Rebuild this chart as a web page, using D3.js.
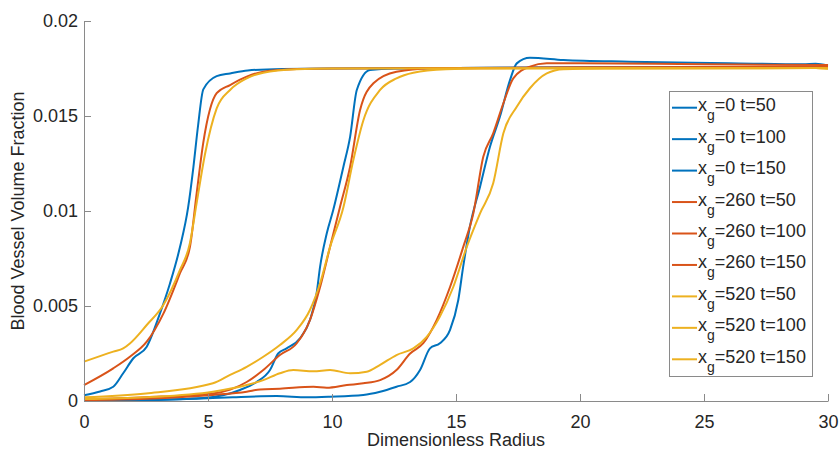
<!DOCTYPE html>
<html>
<head>
<meta charset="utf-8">
<script src="https://cdn.jsdelivr.net/npm/d3@7"></script>
<style>
  body { margin: 0; background: #fff; }
  text { font-family: Arial, "Liberation Sans", sans-serif; fill: #262626; }
</style>
</head>
<body>
<div id="chart"></div>
<script>
// Blood vessel volume fraction vs dimensionless radius
const xTicks = [0, 5, 10, 15, 20, 25, 30];
const yTicks = [0, 0.005, 0.01, 0.015, 0.02];

const xg0_t50 = [[0,0.0003],[0.65,0.0005],[1.18,0.00075],[1.58,0.00146],[1.99,0.00225],[2.53,0.00286],[3.06,0.0046],[3.47,0.0062],[3.87,0.0081],[4.2,0.0102],[4.41,0.0123],[4.6,0.0145],[4.81,0.0164],[5.35,0.0171],[5.89,0.01724],[6.6,0.0174],[8,0.01748],[10,0.0175],[15,0.01752],[20,0.01755],[25,0.01756],[30,0.01756]];
const xg0_t100 = [[0,0.00003],[2,0.00005],[4,0.0001],[5,0.00018],[5.6,0.0003],[6.29,0.00058],[6.96,0.001],[7.5,0.00163],[7.83,0.0025],[8.17,0.00277],[8.71,0.0033],[9.11,0.00426],[9.38,0.00567],[9.52,0.00707],[9.79,0.00883],[10.05,0.01005],[10.46,0.01233],[10.73,0.0139],[11.0,0.01637],[11.53,0.01742],[12.5,0.0175],[15,0.01752],[20,0.01755],[30,0.01756]];
const xg0_t150 = [[0,0.00002],[3,0.00005],[5,0.00015],[6,0.0002],[7.77,0.00026],[9,0.0002],[9.92,0.00023],[11.26,0.00032],[11.94,0.00049],[12.6,0.00075],[13.15,0.001],[13.55,0.00163],[13.95,0.00277],[14.35,0.00304],[14.76,0.00374],[15.09,0.0053],[15.29,0.00707],[15.56,0.00917],[15.97,0.01128],[16.37,0.01338],[16.77,0.01496],[17.18,0.0169],[17.45,0.01777],[17.98,0.01807],[19.33,0.01795],[22,0.01786],[26,0.01778],[29,0.01772],[29.5,0.01775],[30,0.01765]];
const xg260_t50 = [[0,0.00084],[1.18,0.00172],[1.85,0.00233],[2.53,0.00312],[3.2,0.0046],[3.87,0.00673],[4.27,0.0081],[4.54,0.0109],[4.81,0.0136],[5.35,0.0162],[5.89,0.01663],[6.56,0.01707],[7.23,0.01733],[8.58,0.01747],[10,0.0175],[15,0.01752],[20,0.01755],[30,0.01756]];
const xg260_t100 = [[0,0.0001],[2.5,0.0002],[5.2,0.0004],[5.9,0.0006],[6.56,0.001],[7.23,0.00163],[7.9,0.00242],[8.58,0.00304],[9.11,0.00426],[9.52,0.006],[9.92,0.0081],[10.32,0.0102],[10.73,0.01233],[11.13,0.0153],[11.67,0.01672],[12.6,0.01733],[13.95,0.0175],[20,0.01755],[30,0.01758]];
const xg260_t150 = [[0,0.00005],[2.5,0.00012],[5.2,0.00032],[6.56,0.00049],[7.1,0.00061],[7.9,0.00065],[9.25,0.00075],[9.79,0.0007],[10.6,0.00084],[11.26,0.00093],[11.94,0.0011],[12.6,0.00163],[13.15,0.0025],[13.68,0.00304],[14.22,0.00426],[14.76,0.006],[15.29,0.0081],[15.7,0.00988],[16.1,0.01286],[16.5,0.01409],[16.91,0.01567],[17.31,0.01698],[17.98,0.0176],[18.66,0.01777],[20,0.01778],[25,0.01772],[30,0.01768]];
const xg520_t50 = [[0,0.00207],[1.18,0.0026],[1.58,0.00277],[1.85,0.00303],[2.53,0.004],[3.2,0.00505],[3.87,0.0069],[4.27,0.0083],[4.54,0.0104],[4.88,0.013],[5.35,0.0154],[5.89,0.01637],[6.56,0.01698],[7.23,0.01728],[8.58,0.01746],[10,0.0175],[20,0.01752],[29.5,0.01753],[30,0.0175]];
const xg520_t100 = [[0,0.0002],[2.5,0.0004],[5.2,0.00093],[5.89,0.00137],[6.56,0.0018],[7.23,0.00233],[7.9,0.00295],[8.58,0.00374],[9.11,0.00479],[9.52,0.0062],[9.92,0.0081],[10.46,0.0102],[10.86,0.01268],[11.26,0.01475],[11.94,0.01637],[12.6,0.01698],[13.28,0.01728],[14.6,0.01746],[16,0.0175],[29.5,0.01752],[30,0.0175]];
const xg520_t150 = [[0,0.0001],[2.5,0.0002],[5.2,0.00049],[6.56,0.00084],[7.23,0.0011],[7.9,0.00146],[8.44,0.00163],[9.25,0.00156],[9.92,0.00163],[10.73,0.00146],[11.4,0.00154],[11.94,0.0019],[12.6,0.00242],[13.28,0.00277],[13.82,0.00338],[14.35,0.00444],[14.89,0.006],[15.43,0.0081],[15.97,0.00988],[16.5,0.01146],[16.91,0.01409],[17.45,0.01549],[17.98,0.01646],[18.66,0.01724],[19.33,0.01746],[21,0.0175],[29.5,0.01752],[30,0.0175]];

const xgValues = ['0', '0', '0', '260', '260', '260', '520', '520', '520'];
const tValues = ['50', '100', '150', '50', '100', '150', '50', '100', '150'];
const seriesData = [xg0_t50, xg0_t100, xg0_t150, xg260_t50, xg260_t100, xg260_t150, xg520_t50, xg520_t100, xg520_t150];
const colorFor = {'0': '#0072BD', '260': '#D95319', '520': '#EDB120'};

const W = 839, H = 452;
const margin = {left: 84, right: 11, top: 21, bottom: 51};

const svg = d3.select('#chart').append('svg').attr('width', W).attr('height', H);

const x = d3.scaleLinear().domain([0, 30]).range([margin.left, W - margin.right]);
const y = d3.scaleLinear().domain([0, 0.02]).range([H - margin.bottom, margin.top]);

// curves (drawn in legend order so yellow ends on top)
const line = d3.line().x(d => x(d[0])).y(d => y(d[1])).curve(d3.curveMonotoneX);
svg.append('g').selectAll('path').data(seriesData).enter().append('path')
  .attr('d', line)
  .attr('fill', 'none')
  .attr('stroke', (d, i) => colorFor[xgValues[i]])
  .attr('stroke-width', 2)
  .attr('stroke-linejoin', 'round');

// axes, ticks pointing inward like MATLAB
const xAxis = svg.append('g').attr('transform', `translate(0,${y(0)})`)
  .call(d3.axisBottom(x).tickValues(xTicks).tickSizeInner(-7).tickSizeOuter(0).tickPadding(14).tickFormat(d3.format('d')));
const yAxis = svg.append('g').attr('transform', `translate(${x(0)},0)`)
  .call(d3.axisLeft(y).tickValues(yTicks).tickSizeInner(-7).tickSizeOuter(0).tickPadding(6).tickFormat(d => d === 0 ? '0' : String(+d.toFixed(3))));
[xAxis, yAxis].forEach(a => {
  a.select('.domain').attr('stroke', '#8a8a8a');
  a.selectAll('.tick line').attr('stroke', '#8a8a8a');
  a.selectAll('.tick text').attr('font-size', 18).attr('fill', '#262626')
    .style('font-family', 'Arial, "Liberation Sans", sans-serif');
});

svg.append('text').attr('x', (x(0) + x(30)) / 2).attr('y', 446)
  .attr('text-anchor', 'middle').attr('font-size', 18).text('Dimensionless Radius');
svg.append('text').attr('transform', `translate(24,${(y(0) + y(0.02)) / 2}) rotate(-90)`)
  .attr('text-anchor', 'middle').attr('font-size', 18).text('Blood Vessel Volume Fraction');

// legend
const lg = svg.append('g');
lg.append('rect').attr('x', 669.5).attr('y', 91.5).attr('width', 143).attr('height', 285)
  .attr('fill', '#fff').attr('stroke', '#8a8a8a').attr('stroke-width', 1);
const rows = lg.selectAll('g.row').data(seriesData).enter().append('g')
  .attr('transform', (d, i) => `translate(0,${107.7 + i * 31.45})`);
rows.append('line').attr('x1', 672).attr('x2', 697).attr('y1', 0).attr('y2', 0)
  .attr('stroke', (d, i) => colorFor[xgValues[i]]).attr('stroke-width', 2);
const lt = rows.append('text').attr('x', 698).attr('y', 3.5).attr('font-size', 18);
lt.append('tspan').text('x');
lt.append('tspan').attr('font-size', 14).attr('dy', 9).text('g');
lt.append('tspan').attr('dy', -9).text((d, i) => `=${xgValues[i]} t=${tValues[i]}`);
</script>
</body>
</html>
